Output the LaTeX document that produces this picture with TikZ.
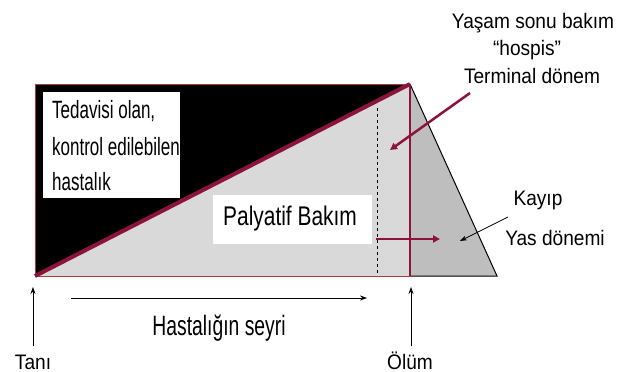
\documentclass[tikz,border=0pt]{standalone}
\usepackage{fontspec}
\setmainfont{Liberation Sans}
\newfontfamily\condA[FakeStretch=0.68]{Liberation Sans}
\newfontfamily\condB[FakeStretch=0.775]{Liberation Sans}
\newfontfamily\condC[FakeStretch=0.69]{Liberation Sans}
\newfontfamily\condD[FakeStretch=0.91]{Liberation Sans}
\usetikzlibrary{arrows.meta}
\definecolor{maroon}{RGB}{140,20,60}
\definecolor{edgered}{RGB}{170,60,60}
\definecolor{lightfill}{RGB}{217,217,217}
\definecolor{darkfill}{RGB}{190,190,190}
\tikzset{
  lbl/.style={font=\condD\fontsize{21}{24}\selectfont, inner sep=0pt, anchor=base},
  tedlbl/.style={font=\condA\fontsize{25}{28}\selectfont, inner sep=0pt, anchor=base west},
  whitebox/.style={fill=white, inner sep=0pt, anchor=north west},
  redarrow/.style={draw=maroon, line width=2.5pt, -{Triangle[length=7pt,width=7pt]}},
  thinarrow/.style={draw=black, line width=0.8pt, -{Stealth[length=7pt,width=5pt]}},
}
\begin{document}
\begin{tikzpicture}[x=1pt,y=-1pt]
\useasboundingbox (0,0) rectangle (630,372);
% corners
\coordinate (tl) at (35,84);
\coordinate (tr) at (410,84);
\coordinate (bl) at (35,276);
\coordinate (br) at (410,276);
\coordinate (tip) at (497,276);
% fills
\fill[lightfill] (tl) rectangle (br);
\fill[black] (bl) -- (tl) -- (tr) -- cycle;
\fill[darkfill] (tr) -- (tip) -- (br) -- cycle;
\draw[black, line width=1pt] (tr) -- (tip) -- (br);
\draw[dashed, line width=0.8pt] (377,108) -- (377,276);
\draw[edgered, line width=0.8pt] (tl) rectangle (br);
\draw[maroon, line width=1.5pt] (tr) -- (br);
\draw[maroon, line width=4pt] (bl) -- (tr);
% white boxes
\node[whitebox, minimum width=137pt, minimum height=106pt] (tedbox) at (43,92) {};
\node[tedlbl] (t1) at (52,118) {Tedavisi olan,};
\node[tedlbl] (t2) at (52,155) {kontrol edilebilen};
\node[tedlbl] (t3) at (52,190) {hastalık};
\node[whitebox, minimum width=159pt, minimum height=49pt] (palbox) at (213,195) {};
\node[inner sep=0pt, anchor=base west, font=\condB\fontsize{27}{30}\selectfont] (pal) at (223,225) {Palyatif Bakım};
% right labels
\node[lbl] (y1) at (533,28) {Yaşam sonu bakım};
\node[lbl] (y2) at (527,55) {“hospis”};
\node[lbl] (y3) at (532,83) {Terminal dönem};
\node[lbl] (k1) at (538,205) {Kayıp};
\node[lbl] (k2) at (555,245) {Yas dönemi};
% arrows
\coordinate (ra1) at (470,93);
\coordinate (ra2) at (390,150);
\draw[redarrow] (ra1) -- (ra2);
\coordinate (ha1) at (376,239);
\coordinate (ha2) at (440,239);
\draw[redarrow] (ha1) -- (ha2);
\coordinate (ka1) at (508,217);
\coordinate (ka2) at (460,241);
\draw[thinarrow] (ka1) -- (ka2);
% bottom
\node[lbl] (tani) at (33,369) {Tanı};
\node[lbl] (olum) at (410,369) {Ölüm};
\node[inner sep=0pt, anchor=base, font=\condC\fontsize{28}{32}\selectfont] (seyri) at (219,335) {Hastalığın seyri};
\coordinate (tanitop) at (33,287);
\coordinate (olumtop) at (411,287);
\coordinate (tanibot) at (33,346);
\coordinate (olumbot) at (411,346);
\draw[thinarrow] (tanibot) -- (tanitop);
\draw[thinarrow] (olumbot) -- (olumtop);
\coordinate (s1) at (71,298);
\coordinate (s2) at (367,298);
\draw[thinarrow] (s1) -- (s2);
\end{tikzpicture}
\end{document}
